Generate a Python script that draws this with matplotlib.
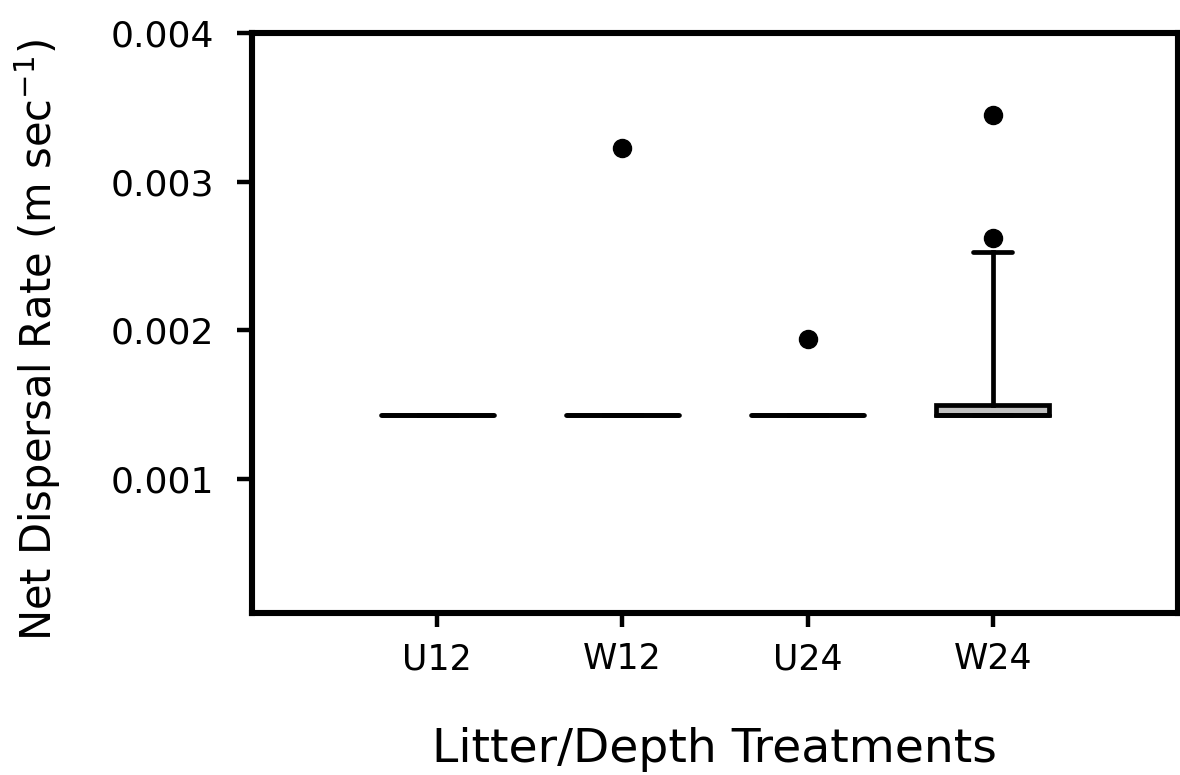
import matplotlib
matplotlib.use("Agg")
import matplotlib.pyplot as plt

# ---- data ----
categories = ["U12", "W12", "U24", "W24"]
q1 = [0.00143, 0.00143, 0.00143, 0.00143]
median = [0.00143, 0.00143, 0.00143, 0.00143]
q3 = [0.00143, 0.00143, 0.00143, 0.00150]
whisker_low = [0.00143, 0.00143, 0.00143, 0.00143]
whisker_high = [0.00143, 0.00143, 0.00143, 0.00253]
outliers = [[], [0.00323], [0.00194], [0.00262, 0.00345]]
yticks = [0.001, 0.002, 0.003, 0.004]
ytick_labels = ["0.001", "0.002", "0.003", "0.004"]

plt.rcParams['font.family'] = ['DejaVu Sans']

fig = plt.figure(figsize=(11.8, 7.75), dpi=100)
ax = fig.add_axes([252/1180, (775-613)/775, (1178-252)/1180, (613-33)/775])

stats = []
for i, c in enumerate(categories):
    stats.append(dict(label=c, q1=q1[i], med=median[i], q3=q3[i],
                      whislo=whisker_low[i], whishi=whisker_high[i],
                      fliers=outliers[i]))

positions = list(range(1, len(categories) + 1))
ax.bxp(stats, positions=positions, widths=0.61, patch_artist=True,
       showfliers=True, capwidths=0.21,
       boxprops=dict(facecolor="#c0c0c0", edgecolor="black", linewidth=3.4),
       medianprops=dict(color="black", linewidth=3.4, solid_capstyle="round"),
       whiskerprops=dict(color="black", linewidth=3.4),
       capprops=dict(color="black", linewidth=3.4, solid_capstyle="round"),
       flierprops=dict(marker="o", markerfacecolor="black",
                       markeredgecolor="black", markersize=13))

ax.set_xlim(0, 5)
ax.set_ylim(0.0001, 0.004)
ax.set_xticks(positions)
ax.set_xticklabels(categories, fontsize=25)
ax.set_yticks(yticks)
ax.set_yticklabels(ytick_labels, fontsize=26)

for s in ax.spines.values():
    s.set_linewidth(4.4)
ax.tick_params(axis="y", direction="out", length=11, width=3.2, pad=16)
ax.tick_params(axis="x", direction="out", length=10, width=3.2, pad=11)

fig.text(38/1180, 1 - 340/775, "Net Dispersal Rate (m sec$^{-1}$)",
         rotation=90, ha="center", va="center", fontsize=30)
fig.text(714/1180, 1 - 750/775, "Litter/Depth Treatments",
         ha="center", va="center", fontsize=34)

fig.savefig("out.png", dpi=100)
